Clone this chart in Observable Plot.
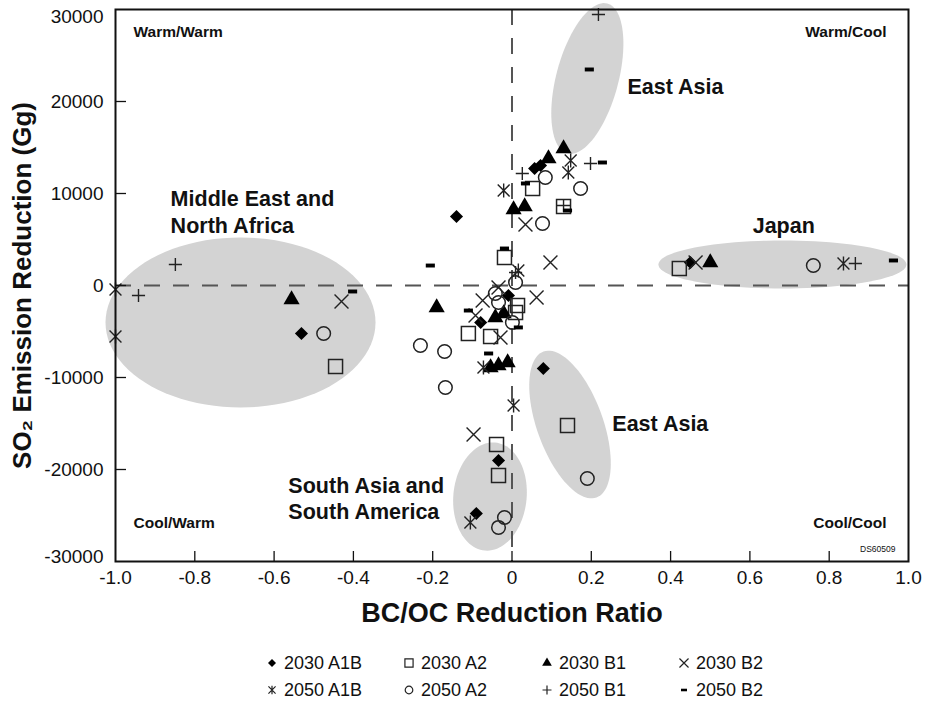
<!DOCTYPE html>
<html><head><meta charset="utf-8">
<script src="https://cdn.jsdelivr.net/npm/d3@7"></script>
<script src="https://cdn.jsdelivr.net/npm/@observablehq/plot@0.6"></script>
<style>
body{margin:0;background:#fff;font-family:"Liberation Sans",Arial,Helvetica,sans-serif;}
#wrap{position:relative;width:928px;height:703px;overflow:hidden;}
#legend{position:absolute;left:0;top:640px;width:928px;height:63px;}
.li{position:absolute;display:flex;align-items:center;font-size:18px;color:#111;white-space:nowrap;height:20px;}
.li svg{margin-right:5px;overflow:visible;}
</style></head><body><div id="wrap"><div id="chart"></div><div id="legend"></div></div>
<script>
// ---- axes ----
const xTicks = [-1, -0.8, -0.6, -0.4, -0.2, 0, 0.2, 0.4, 0.6, 0.8, 1];
const xTickLabels = ["-1.0", "-0.8", "-0.6", "-0.4", "-0.2", "0", "0.2", "0.4", "0.6", "0.8", "1.0"];
const yTicks = [-30000, -20000, -10000, 0, 10000, 20000, 30000];
const yTickLabels = ["-30000", "-20000", "-10000", "0", "10000", "20000", "30000"];

// ---- series: [BC/OC reduction ratio, SO2 emission reduction (Gg)] ----
const s2030A1B = [[-0.140, 7500], [-0.531, -5220], [0.079, -9020], [-0.034, -19020], [-0.090, -24780], [0.450, 2500], [0.057, 12720], [0.072, 13040], [-0.079, -4020], [-0.009, -1090]];
const s2030A2 = [[0.422, 1850], [-0.445, -8800], [0.140, -15220], [-0.039, -17280], [-0.034, -20650], [-0.110, -5220], [-0.054, -5540], [-0.019, 3040], [0.052, 10540], [0.130, 8590], [0.014, -2170], [0.009, -2930]];
const s2030B1 = [[0.500, 2500], [-0.556, -1520], [-0.190, -2390], [0.130, 14890], [0.092, 13800], [0.004, 8260], [0.032, 8590], [-0.042, -3480], [-0.021, -3040], [-0.054, -8910], [-0.034, -8700], [-0.011, -8370]];
const s2030B2 = [[-0.430, -1740], [0.097, 2500], [0.062, -1300], [-0.097, -16200], [0.034, 6630], [-0.074, -1630], [-0.029, -5650], [0.463, 2500], [-0.034, -220], [-0.092, -3260]];
const s2050A1B = [[-1.0, -430], [-1.0, -5540], [0.836, 2390], [0.004, -13040], [-0.105, -25760], [-0.021, 10330], [0.148, 13590], [0.142, 12280], [-0.072, -8910], [0.016, 1630]];
const s2050A2 = [[0.760, 2170], [-0.475, -5220], [0.190, -20980], [-0.168, -11090], [-0.231, -6520], [-0.170, -7170], [-0.019, -25220], [-0.034, -26300], [0.173, 10540], [0.084, 11740], [0.077, 6740], [0.009, 330], [-0.042, -870], [0.001, -4020], [-0.034, -1850]];
const s2050B1 = [[0.218, 29460], [0.198, 13260], [0.026, 12170], [-0.849, 2280], [-0.942, -1090], [0.866, 2390], [0.130, 8700], [0.009, 1410]];
const s2050B2 = [[0.195, 23480], [0.228, 13370], [0.962, 2720], [-0.402, -650], [-0.206, 2170], [0.034, 11090], [0.140, 8150], [-0.059, -7390], [-0.110, -2720], [-0.019, 4020], [0.016, -4560]];

const seriesNames = ["2030 A1B", "2030 A2", "2030 B1", "2030 B2", "2050 A1B", "2050 A2", "2050 B1", "2050 B2"];

// ---- shaded regions: centre and two conjugate semi-axes, in data units ----
const regionEllipses = [
  {cx: 0.190, cy: 22500, ux: 0.0504, uy: 8150, vx: 0.0757, vy: -870},
  {cx: 0.682, cy: 2280, ux: 0.3127, uy: 0, vx: 0, vy: 2610},
  {cx: -0.6847, cy: -4020, ux: 0.3405, uy: 0, vx: 0, vy: 9240},
  {cx: 0.1463, cy: -15110, ux: 0.0668, uy: -7935, vx: 0.0782, vy: 1228},
  {cx: -0.0555, cy: -22940, ux: 0.0126, uy: 5870, vx: 0.0921, vy: -326}
];
const regionLabels = [
  {x: 0.291, y: 21740, text: "East Asia"},
  {x: -0.861, y: 8150, text: "Middle East and\nNorth Africa"},
  {x: 0.607, y: 6630, text: "Japan"},
  {x: 0.253, y: -14890, text: "East Asia"},
  {x: -0.564, y: -23040, text: "South Asia and\nSouth America"}
];

// ---- custom symbols ----
const symAsterisk = {draw(ctx, size) {
  const r = Math.sqrt(size / Math.PI), d = r * 0.85;
  ctx.moveTo(-d, -d); ctx.lineTo(d, d);
  ctx.moveTo(-d, d); ctx.lineTo(d, -d);
  ctx.moveTo(0, -r); ctx.lineTo(0, r);
}};
const symDash = {draw(ctx, size) {
  const r = Math.sqrt(size / Math.PI);
  ctx.rect(-0.65 * r, -0.28 * r, 1.3 * r, 0.56 * r);
}};

const styleDefs = [
  {data: s2030A1B, symbol: d3.symbolDiamond2, r: 5.9, fill: "#000", stroke: "none", sw: 0, lr: 3.6},
  {data: s2030A2, symbol: d3.symbolSquare2, r: 8.9, fill: "none", stroke: "#222", sw: 1.5, lr: 5.2},
  {data: s2030B1, symbol: d3.symbolTriangle, r: 6.0, fill: "#000", stroke: "none", sw: 0, lr: 3.6},
  {data: s2030B2, symbol: d3.symbolTimes, r: 6.4, fill: "none", stroke: "#222", sw: 1.4, lr: 4.2},
  {data: s2050A1B, symbol: symAsterisk, r: 7.0, fill: "none", stroke: "#222", sw: 1.4, lr: 4.2},
  {data: s2050A2, symbol: d3.symbolCircle, r: 6.8, fill: "none", stroke: "#222", sw: 1.5, lr: 3.8},
  {data: s2050B1, symbol: d3.symbolPlus, r: 4.3, fill: "none", stroke: "#222", sw: 1.4, lr: 3.0},
  {data: s2050B2, symbol: symDash, r: 7.0, fill: "#000", stroke: "none", sw: 0, lr: 4.6}
];

const ellipsePts = regionEllipses.flatMap((e, i) => d3.range(97).map(k => {
  const t = 2 * Math.PI * k / 96;
  return {id: i, x: e.cx + Math.cos(t) * e.ux + Math.sin(t) * e.vx, y: e.cy + Math.cos(t) * e.uy + Math.sin(t) * e.vy};
}));

const FONT = '"Liberation Sans", Arial, Helvetica, sans-serif';
const xFmt = d => xTickLabels[xTicks.indexOf(d)];
const yFmt = d => yTickLabels[yTicks.indexOf(d)];

const chart = Plot.plot({
  width: 928, height: 640,
  marginLeft: 115, marginRight: 20, marginTop: 9, marginBottom: 79,
  style: {fontFamily: FONT, fontSize: "19px", color: "#111", background: "#fff"},
  x: {domain: [-1, 1], axis: null},
  y: {domain: [-30000, 30000], axis: null},
  marks: [
    Plot.line(ellipsePts, {x: "x", y: "y", z: "id", fill: "#d3d3d3", stroke: "none", curve: "linear-closed"}),
    Plot.ruleX([0], {stroke: "#555", strokeWidth: 2, strokeDasharray: "16,13"}),
    Plot.ruleY([0], {stroke: "#555", strokeWidth: 2, strokeDasharray: "16,13"}),
    ...styleDefs.map(s => Plot.dot(s.data, {x: d => d[0], y: d => d[1], symbol: s.symbol, r: s.r, fill: s.fill, stroke: s.stroke, strokeWidth: s.sw})),
    Plot.frame({stroke: "#111", strokeWidth: 2}),
    Plot.tickX(xTicks.slice(1, -1), {x: d => d, insetTop: 542, stroke: "#111", strokeWidth: 1.3}),
    Plot.tickY(yTicks.slice(1, -1), {y: d => d, insetRight: 782, stroke: "#111", strokeWidth: 1.3}),
    Plot.axisX(xTicks, {tickSize: 0, tickPadding: 9, tickFormat: xFmt, label: null}),
    Plot.axisY(yTicks.slice(1, -1), {tickSize: 0, tickPadding: 12, tickFormat: yFmt, label: null}),
    Plot.text([yTicks[6]], {x: -1, y: d => d, text: yFmt, textAnchor: "end", dx: -12, dy: 7}),
    Plot.text([yTicks[0]], {x: -1, y: d => d, text: yFmt, textAnchor: "end", dx: -12, dy: -5}),
    Plot.text(["BC/OC Reduction Ratio"], {frameAnchor: "bottom", dy: 52, lineAnchor: "middle", fontSize: 27, fontWeight: "bold"}),
    Plot.text(["SO₂ Emission Reduction (Gg)"], {frameAnchor: "left", dx: -93, rotate: -90, textAnchor: "middle", lineAnchor: "middle", fontSize: 26, fontWeight: "bold"}),
    Plot.text(regionLabels, {x: "x", y: "y", text: "text", textAnchor: "start", lineAnchor: "middle", fontSize: 21.5, fontWeight: "bold", lineHeight: 1.25}),
    Plot.text(["Warm/Warm"], {frameAnchor: "top-left", dx: 18, dy: 23, lineAnchor: "middle", fontSize: 15.5, fontWeight: "bold"}),
    Plot.text(["Warm/Cool"], {frameAnchor: "top-right", dx: -22, dy: 23, lineAnchor: "middle", fontSize: 15.5, fontWeight: "bold"}),
    Plot.text(["Cool/Warm"], {frameAnchor: "bottom-left", dx: 18, dy: -38, lineAnchor: "middle", fontSize: 15.5, fontWeight: "bold"}),
    Plot.text(["Cool/Cool"], {frameAnchor: "bottom-right", dx: -22, dy: -38, lineAnchor: "middle", fontSize: 15.5, fontWeight: "bold"}),
    Plot.text(["DS60509"], {frameAnchor: "bottom-right", dx: -13, dy: -12, lineAnchor: "middle", fontSize: 8.5})
  ]
});
document.getElementById("chart").appendChild(chart);

// ---- legend ----
const legendCols = [272, 409, 547, 684];
const legendRows = [23, 50];
const legend = document.getElementById("legend");
seriesNames.forEach((name, i) => {
  const s = styleDefs[i];
  const item = document.createElement("div");
  item.className = "li";
  item.style.left = (legendCols[i % 4] - 7) + "px";
  item.style.top = (legendRows[Math.floor(i / 4)] - 10) + "px";
  const svg = d3.create("svg").attr("width", 14).attr("height", 14).attr("viewBox", "-7 -7 14 14");
  svg.append("path")
    .attr("d", d3.symbol(s.symbol, Math.PI * s.lr * s.lr)())
    .attr("fill", s.fill).attr("stroke", s.stroke).attr("stroke-width", s.sw ? 1.2 : 0);
  item.appendChild(svg.node());
  const span = document.createElement("span");
  span.textContent = name;
  item.appendChild(span);
  legend.appendChild(item);
});
</script></body></html>
